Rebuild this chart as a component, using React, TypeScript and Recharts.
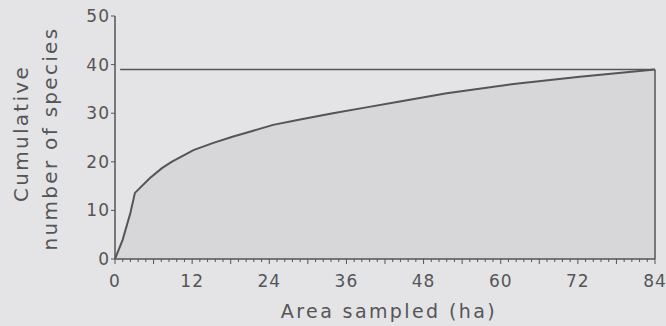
import { ComposedChart, Area, XAxis, YAxis, ReferenceLine } from 'recharts'

// species-area curve
const areaHa = [0, 1.2, 2.4, 3.1, 5.4, 7.3, 8.8, 12.2, 15.3, 18.4, 21.5, 24.6, 28.8, 33.9, 39.1, 44.3, 51.6, 62, 72.3, 84]
const species = [0, 4, 9.5, 13.6, 16.6, 18.7, 20, 22.4, 23.9, 25.2, 26.4, 27.6, 28.7, 30, 31.2, 32.4, 34.1, 36, 37.5, 39]

const TOTAL_SPECIES = 39
const LINE_START = 0.8

const yTicks = [0, 10, 20, 30, 40, 50]
// 10 small ticks per 12 ha, labels every 12
const xTicks = Array.from({ length: 71 }, (_, i) => Math.round(i * 12) / 10)

const data = areaHa.map((a, i) => ({ area: a, species: species[i] }))

const INK = '#555557'
const BG = '#e4e4e6'
const FILL = '#d7d7d9'
const FONT = '"DejaVu Sans", sans-serif'

const XTick = (props: any) => {
  const { x, y, index, payload } = props
  const major = index % 10 === 0
  const mid = index % 5 === 0
  const len = major || mid ? 5 : 3
  return (
    <g>
      <line x1={x} x2={x} y1={y} y2={y + len} stroke={INK} strokeWidth={1} />
      {major && (
        <text x={x} y={y + 28} textAnchor="middle" fill={INK} fontSize={17} fontFamily={FONT} letterSpacing={1}>
          {payload.value}
        </text>
      )}
    </g>
  )
}

const YLabel = (props: any) => {
  const { viewBox } = props
  const cy = viewBox.y + viewBox.height / 2
  return (
    <g fill={INK} fontSize={20} fontFamily={FONT} letterSpacing={2.3} textAnchor="middle">
      <text x={28} y={cy - 4} transform={`rotate(-90, 28, ${cy - 4})`}>Cumulative</text>
      <text x={57} y={cy + 1} transform={`rotate(-90, 57, ${cy + 1})`}>number of species</text>
    </g>
  )
}

const XLabel = (props: any) => {
  const { viewBox } = props
  const cx = viewBox.x + viewBox.width / 2
  return (
    <text x={cx + 4} y={318} textAnchor="middle" fill={INK} fontSize={19} fontFamily={FONT} letterSpacing={2.4}>
      Area sampled (ha)
    </text>
  )
}

export default function App() {
  return (
    <div style={{ position: 'absolute', left: 0, top: 0, width: 666, height: 326, background: BG }}>
      <ComposedChart width={666} height={326} data={data} margin={{ top: 16, right: 11, bottom: 0, left: 0 }}>
        <XAxis
          dataKey="area"
          type="number"
          domain={[0, 84]}
          ticks={xTicks}
          interval={0}
          height={67}
          tickSize={0}
          tickMargin={0}
          tickLine={false}
          axisLine={{ stroke: INK, strokeWidth: 1.5 }}
          tick={<XTick />}
          label={{ content: <XLabel /> }}
        />
        <YAxis
          type="number"
          domain={[0, 50]}
          ticks={yTicks}
          interval={0}
          width={115}
          tickSize={4}
          tickMargin={1}
          axisLine={{ stroke: INK, strokeWidth: 1.5 }}
          tickLine={{ stroke: INK }}
          tick={{ fill: INK, fontSize: 17, fontFamily: FONT, letterSpacing: 1 }}
          label={{ content: <YLabel /> }}
        />
        <Area
          type="linear"
          dataKey="species"
          stroke={INK}
          strokeWidth={2}
          fill={FILL}
          fillOpacity={1}
          dot={false}
          activeDot={false}
          isAnimationActive={false}
        />
        <ReferenceLine
          segment={[{ x: LINE_START, y: TOTAL_SPECIES }, { x: 84, y: TOTAL_SPECIES }]}
          stroke={INK}
          strokeWidth={1.5}
        />
        <ReferenceLine
          segment={[{ x: 84, y: 0 }, { x: 84, y: TOTAL_SPECIES }]}
          stroke={INK}
          strokeWidth={1.5}
        />
      </ComposedChart>
    </div>
  )
}
